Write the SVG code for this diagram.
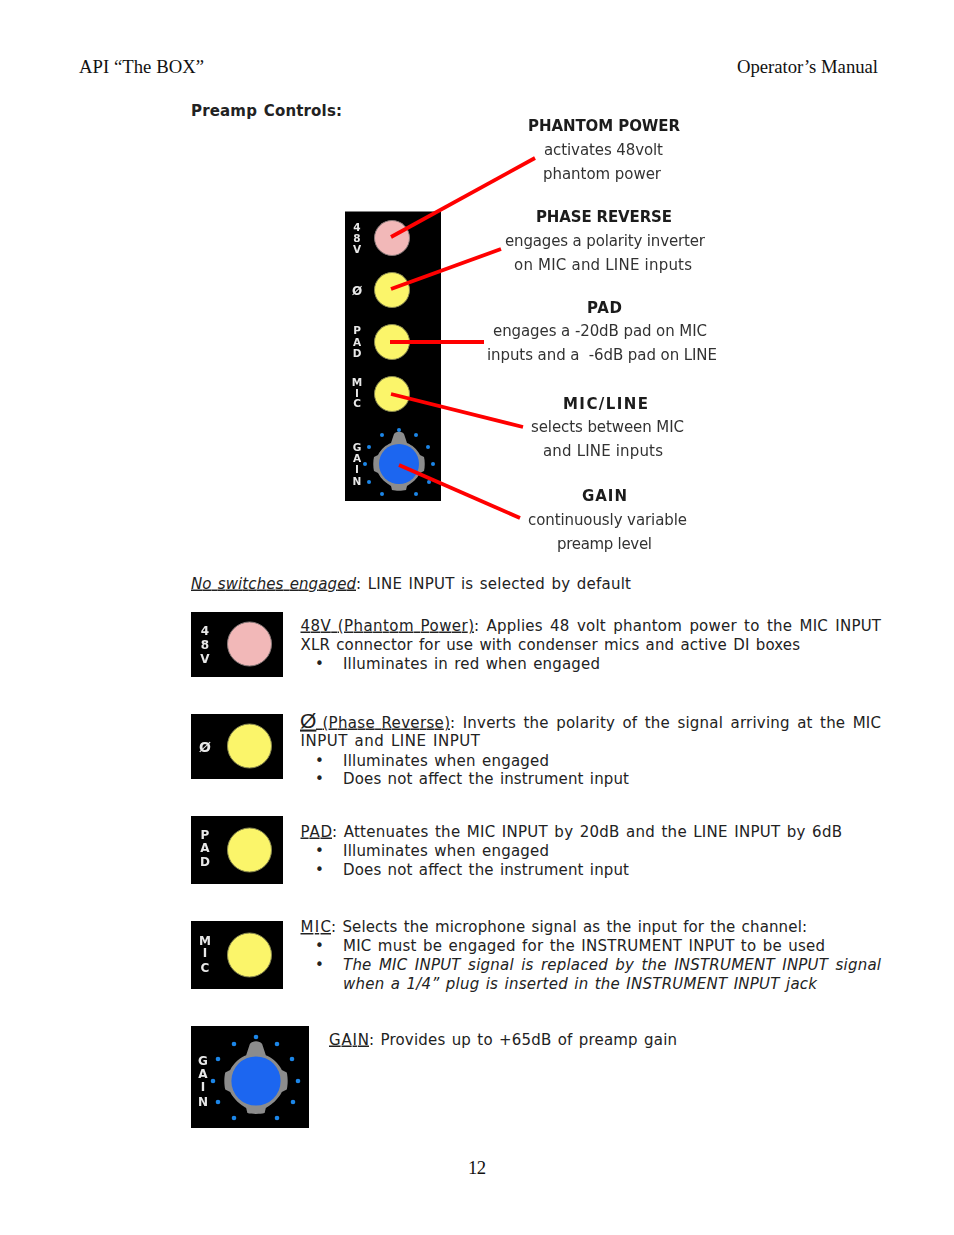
<svg xmlns="http://www.w3.org/2000/svg" xmlns:xlink="http://www.w3.org/1999/xlink" width="954" height="1235" viewBox="0 0 954 1235">
<style>
.serif{font-family:"Liberation Serif","Times New Roman",serif;font-size:18.7px;fill:#111}
.b{font-family:"DejaVu Sans",Verdana,sans-serif;font-size:15px;fill:#222;word-spacing:1.3px}
.j{word-spacing:2.4px}
.u{text-decoration:underline;text-decoration-skip-ink:none;text-decoration-thickness:1px}
.i{font-style:italic}
.h{font-family:"DejaVu Sans",Verdana,sans-serif;font-size:15px;font-weight:bold;fill:#1a1a1a}
.c{font-family:"DejaVu Sans",Verdana,sans-serif;font-size:15px;fill:#333}
.pl{font-family:"DejaVu Sans",Verdana,sans-serif;font-weight:bold;font-size:10.5px;fill:#e8e8e8;text-anchor:middle}
.pm{font-family:"DejaVu Sans",Verdana,sans-serif;font-weight:bold;font-size:12px;fill:#e8e8e8;text-anchor:middle}
.panel{fill:#000}
.pink{fill:#f2b8b8;stroke:#8a7a7a;stroke-width:1}
.yel{fill:#fbf56a;stroke:#8a8a50;stroke-width:1}
.dot{fill:#1c86e8}
.lead{stroke:#f00;stroke-width:3.8;fill:none;stroke-linecap:butt}
.soft{filter:url(#soft)}
</style>
<defs>
<filter id="soft" x="-5%" y="-5%" width="110%" height="110%"><feGaussianBlur stdDeviation="0.35"/></filter>
<g id="knob">
<path fill="#8c8c8c" d="M-5-30C-3-33 3-33 5-30L8-21C13-19 18-15 21-9L25-7C26-3 26 3 25 7L21 9C18 15 13 19 8 22L7 26C3 27-3 27-7 26L-8 22C-13 19-18 15-21 9L-25 7C-26 3-26-3-25-7L-21-9C-18-15-13-19-8-21Z"/>
<circle r="20" fill="#1a66f0"/>
</g>
</defs>
<rect width="954" height="1235" fill="#fff"/>

<g id="page-header">
<text class="serif" x="79" y="73" textLength="125">API “The BOX”</text>
<text class="serif" x="737" y="73" textLength="141">Operator’s Manual</text>
<text class="b" font-weight="bold" x="191" y="115.500" textLength="151">Preamp Controls:</text>
</g>

<g id="channel-strip" class="soft">
<rect class="panel" x="345" y="211.500" width="96" height="289.500"/>
<text class="pl" x="357" y="231">4</text><text class="pl" x="357" y="242">8</text><text class="pl" x="357" y="253">V</text>
<text class="pm" x="357" y="295">Ø</text>
<text class="pl" x="357" y="334">P</text><text class="pl" x="357" y="346">A</text><text class="pl" x="357" y="357">D</text>
<text class="pl" x="357" y="386">M</text><text class="pl" x="357" y="397">I</text><text class="pl" x="357" y="407">C</text>
<text class="pl" x="357" y="451">G</text><text class="pl" x="357" y="462">A</text><text class="pl" x="357" y="473">I</text><text class="pl" x="357" y="485">N</text>
<circle class="pink" cx="392" cy="238" r="17.500"/>
<circle class="yel" cx="392" cy="290" r="17.500"/>
<circle class="yel" cx="392" cy="342" r="17.500"/>
<circle class="yel" cx="392" cy="394" r="17.500"/>
<use xlink:href="#knob" href="#knob" transform="translate(399 464)"/>
<g class="dot"><circle cx="382" cy="435" r="2"/><circle cx="399" cy="430" r="2"/><circle cx="416" cy="435" r="2"/><circle cx="428" cy="447" r="2"/><circle cx="433" cy="464" r="2"/><circle cx="429" cy="482" r="2"/><circle cx="416" cy="494" r="2"/><circle cx="382" cy="494" r="2"/><circle cx="369" cy="482" r="2"/><circle cx="365" cy="464" r="2"/><circle cx="369" cy="447" r="2"/></g>
</g>

<g id="connectors" class="soft">
<line class="lead" x1="391" y1="237" x2="535" y2="158"/>
<line class="lead" x1="391" y1="289" x2="501" y2="249"/>
<line class="lead" x1="390" y1="342" x2="484" y2="342"/>
<line class="lead" x1="391" y1="394" x2="523" y2="427"/>
<line class="lead" x1="399" y1="465" x2="520" y2="518"/>
</g>

<g id="label-phantom" class="soft">
<text class="h" x="528" y="131" textLength="152">PHANTOM POWER</text>
<text class="c" x="544" y="155" textLength="119">activates 48volt</text>
<text class="c" x="543" y="179" textLength="118">phantom power</text>
</g>
<g id="label-phase" class="soft">
<text class="h" x="536" y="222" textLength="136">PHASE REVERSE</text>
<text class="c" x="505" y="246" textLength="200">engages a polarity inverter</text>
<text class="c" x="514" y="270" textLength="178">on MIC and LINE inputs</text>
</g>
<g id="label-pad" class="soft">
<text class="h" x="587" y="313" textLength="35">PAD</text>
<text class="c" x="493" y="336" textLength="214">engages a -20dB pad on MIC</text>
<text class="c" x="487" y="360" textLength="230" xml:space="preserve">inputs and a  -6dB pad on LINE</text>
</g>
<g id="label-micline" class="soft">
<text class="h" x="563" y="409" textLength="85">MIC/LINE</text>
<text class="c" x="531" y="432" textLength="153">selects between MIC</text>
<text class="c" x="543" y="456" textLength="120">and LINE inputs</text>
</g>
<g id="label-gain" class="soft">
<text class="h" x="582" y="501" textLength="45">GAIN</text>
<text class="c" x="528" y="525" textLength="159">continuously variable</text>
<text class="c" x="557" y="549" textLength="95">preamp level</text>
</g>

<g id="default-note">
<text class="b u i" x="191" y="588.500" textLength="165">No switches engaged</text>
<text class="b" x="356" y="588.500" textLength="275">: LINE INPUT is selected by default</text>
</g>

<g id="row-48v">
<g class="soft">
<rect class="panel" x="191" y="612" width="92" height="65"/>
<text class="pm" x="205" y="635">4</text><text class="pm" x="205" y="649">8</text><text class="pm" x="205" y="663">V</text>
<circle class="pink" cx="249.500" cy="644" r="22"/>
</g>
<text class="b u" x="300.500" y="630.500" textLength="173.500">48V (Phantom Power)</text>
<text class="b j" x="474" y="630.500" textLength="407">: Applies 48 volt phantom power to the MIC INPUT</text>
<text class="b" x="300.500" y="649.500" textLength="499.500">XLR connector for use with condenser mics and active DI boxes</text>
<text class="b" x="315" y="668.500">•</text>
<text class="b" x="343" y="668.500" textLength="257">Illuminates in red when engaged</text>
</g>

<g id="row-phase">
<g class="soft">
<rect class="panel" x="191" y="714" width="92" height="65"/>
<text class="pm" x="205" y="752" style="font-size:14px">Ø</text>
<circle class="yel" cx="249.500" cy="746" r="22"/>
</g>
<text class="u" x="300" y="727.500" style="font-family:'Liberation Sans',Arial,sans-serif;font-size:21px;fill:#222">Ø</text>
<text class="b u" x="316" y="727.500" xml:space="preserve" textLength="134"> (Phase Reverse)</text>
<text class="b j" x="450" y="727.500" textLength="431">: Inverts the polarity of the signal arriving at the MIC</text>
<text class="b" x="300.500" y="746" textLength="179.500">INPUT and LINE INPUT</text>
<text class="b" x="315" y="765.500">•</text>
<text class="b" x="343" y="765.500" textLength="206">Illuminates when engaged</text>
<text class="b" x="315" y="783.500">•</text>
<text class="b" x="343" y="783.500" textLength="286">Does not affect the instrument input</text>
</g>

<g id="row-pad">
<g class="soft">
<rect class="panel" x="191" y="816" width="92" height="68"/>
<text class="pm" x="205" y="839">P</text><text class="pm" x="205" y="852">A</text><text class="pm" x="205" y="866">D</text>
<circle class="yel" cx="249.500" cy="850" r="22"/>
</g>
<text class="b u" x="300.500" y="836.500" textLength="31.500">PAD</text>
<text class="b" x="332" y="836.500" textLength="510">: Attenuates the MIC INPUT by 20dB and the LINE INPUT by 6dB</text>
<text class="b" x="315" y="855.500">•</text>
<text class="b" x="343" y="855.500" textLength="206">Illuminates when engaged</text>
<text class="b" x="315" y="874.500">•</text>
<text class="b" x="343" y="874.500" textLength="286">Does not affect the instrument input</text>
</g>

<g id="row-mic">
<g class="soft">
<rect class="panel" x="191" y="921" width="92" height="68"/>
<text class="pm" x="205" y="945">M</text><text class="pm" x="205" y="957">I</text><text class="pm" x="205" y="972">C</text>
<circle class="yel" cx="249.500" cy="955" r="22"/>
</g>
<text class="b u" x="300.500" y="932" textLength="30.500">MIC</text>
<text class="b" x="331" y="932" textLength="476">: Selects the microphone signal as the input for the channel:</text>
<text class="b" x="315" y="951">•</text>
<text class="b" x="343" y="951" textLength="482">MIC must be engaged for the INSTRUMENT INPUT to be used</text>
<text class="b" x="315" y="970">•</text>
<text class="b i j" x="343" y="970" textLength="538">The MIC INPUT signal is replaced by the INSTRUMENT INPUT signal</text>
<text class="b i" x="343" y="989" textLength="474">when a 1/4” plug is inserted in the INSTRUMENT INPUT jack</text>
</g>

<g id="row-gain">
<g class="soft">
<rect class="panel" x="191" y="1026" width="118" height="102"/>
<text class="pm" x="203" y="1065">G</text><text class="pm" x="203" y="1078">A</text><text class="pm" x="203" y="1091">I</text><text class="pm" x="203" y="1106">N</text>
<use xlink:href="#knob" href="#knob" transform="translate(256 1081) scale(1.23)"/>
<g class="dot"><circle cx="256" cy="1037" r="2.300"/><circle cx="234" cy="1044" r="2.300"/><circle cx="277" cy="1044" r="2.300"/><circle cx="218" cy="1059" r="2.300"/><circle cx="292" cy="1059" r="2.300"/><circle cx="213" cy="1081" r="2.300"/><circle cx="298" cy="1081" r="2.300"/><circle cx="218" cy="1102" r="2.300"/><circle cx="293" cy="1102" r="2.300"/><circle cx="234" cy="1118" r="2.300"/><circle cx="277" cy="1118" r="2.300"/></g>
</g>
<text class="b u" x="329" y="1044.500" textLength="40">GAIN</text>
<text class="b" x="369" y="1044.500" textLength="308">: Provides up to +65dB of preamp gain</text>
</g>

<g id="page-footer">
<text class="serif" x="468" y="1174" textLength="18">12</text>
</g>
</svg>
